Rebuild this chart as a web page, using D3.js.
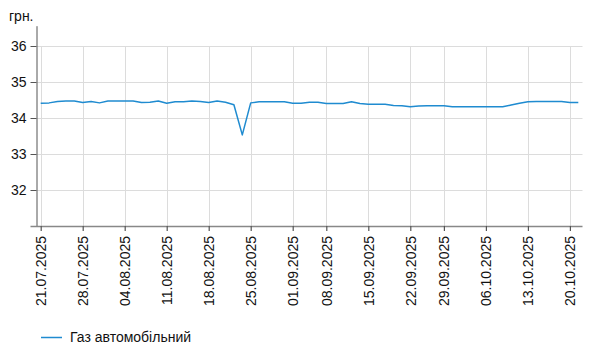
<!DOCTYPE html>
<html><head><meta charset="utf-8">
<script src="https://cdn.jsdelivr.net/npm/d3@7"></script>
<style>
body{margin:0;background:#fff;}
text{font-family:"Liberation Sans",Arial,sans-serif;fill:#111;}
</style></head>
<body><svg id="c" width="591" height="357"></svg>
<script>
const dates = [
"21.07.2025","22.07.2025","23.07.2025","24.07.2025","25.07.2025",
"28.07.2025","29.07.2025","30.07.2025","31.07.2025","01.08.2025",
"04.08.2025","05.08.2025","06.08.2025","07.08.2025","08.08.2025",
"11.08.2025","12.08.2025","13.08.2025","14.08.2025","15.08.2025",
"18.08.2025","19.08.2025","20.08.2025","21.08.2025","22.08.2025",
"25.08.2025","26.08.2025","27.08.2025","28.08.2025","29.08.2025",
"01.09.2025","02.09.2025","03.09.2025","04.09.2025",
"08.09.2025","09.09.2025","10.09.2025","11.09.2025","12.09.2025",
"15.09.2025","16.09.2025","17.09.2025","18.09.2025","19.09.2025",
"22.09.2025","23.09.2025","24.09.2025","25.09.2025",
"29.09.2025","30.09.2025","01.10.2025","02.10.2025","03.10.2025",
"06.10.2025","07.10.2025","08.10.2025","09.10.2025","10.10.2025",
"13.10.2025","14.10.2025","15.10.2025","16.10.2025","17.10.2025",
"20.10.2025","21.10.2025"];
const gasPrices = [
34.41,34.42,34.46,34.47,34.47,
34.43,34.46,34.42,34.47,34.47,
34.47,34.47,34.43,34.44,34.47,
34.41,34.45,34.45,34.47,34.46,
34.43,34.47,34.44,34.37,33.53,
34.42,34.45,34.45,34.45,34.45,
34.41,34.41,34.44,34.44,
34.40,34.40,34.40,34.45,34.40,
34.38,34.38,34.38,34.35,34.34,
34.31,34.33,34.34,34.34,
34.34,34.31,34.31,34.31,34.31,
34.31,34.31,34.31,34.36,34.41,
34.45,34.46,34.46,34.46,34.46,
34.43,34.43];
const xTickLabels = ["21.07.2025","28.07.2025","04.08.2025","11.08.2025","18.08.2025","25.08.2025","01.09.2025","08.09.2025","15.09.2025","22.09.2025","29.09.2025","06.10.2025","13.10.2025","20.10.2025"];
const yTicks = [32,33,34,35,36];
const unitLabel = "грн.";
const seriesName = "Газ автомобільний";

const svg = d3.select("#c");
const L = 36.5, R = 582.5, T = 26.2, B = 226;
const x = d3.scalePoint().domain(dates).range([L, R]).padding(0.5);
const y = d3.scaleLinear().domain([31, 36.55]).range([B, T]);
const color = "#1f8bd0";

// gridlines
const g = svg.append("g");
g.selectAll("line.hg").data(yTicks).join("line")
  .attr("x1", L).attr("x2", R)
  .attr("y1", d => Math.round(y(d)) + 0.5).attr("y2", d => Math.round(y(d)) + 0.5)
  .attr("stroke", "#dcdcdc");
g.selectAll("line.vg").data(xTickLabels).join("line")
  .attr("x1", d => Math.round(x(d)) + 0.5).attr("x2", d => Math.round(x(d)) + 0.5)
  .attr("y1", Math.round(y(36))).attr("y2", B)
  .attr("stroke", "#dcdcdc");

// y axis
const yAxis = svg.append("g").attr("transform", `translate(${L},0)`)
  .call(d3.axisLeft(y).tickValues(yTicks).tickSize(6).tickPadding(4).tickFormat(d3.format("d")));
yAxis.select(".domain").attr("stroke", "#555").attr("d", `M0.5,${T}V${B}`);
yAxis.selectAll(".tick line").attr("stroke", "#555");
yAxis.selectAll("text").style("font-size", "14px").attr("fill", "#111");

// x axis
const xAxis = svg.append("g").attr("transform", `translate(0,${B})`)
  .call(d3.axisBottom(x).tickValues(xTickLabels).tickSize(5).tickPadding(4));
xAxis.select(".domain").attr("stroke", "#888").attr("stroke-width", 1.5).attr("d", `M${L-6},0.5H${R}`);
xAxis.selectAll(".tick line").attr("stroke", "#555").attr("stroke-width", 1.2);
xAxis.selectAll(".tick text")
  .style("font-size", "14px").attr("fill", "#111")
  .attr("text-anchor", "end")
  .attr("transform", "rotate(-90)")
  .attr("x", -10).attr("y", 0).attr("dy", "0.35em");

// unit label
svg.append("text").attr("x", 9).attr("y", 21).style("font-size", "14px").text(unitLabel);

// line
const line = d3.line().x((d, i) => x(dates[i])).y(d => y(d)).curve(d3.curveLinear);
svg.append("path").datum(gasPrices).attr("d", line)
  .attr("fill", "none").attr("stroke", color).attr("stroke-width", 1.5)
  .attr("stroke-linejoin", "round");

// legend
const lg = svg.append("g");
lg.append("line").attr("x1", 41).attr("x2", 62).attr("y1", 337.5).attr("y2", 337.5).attr("stroke", color).attr("stroke-width", 1.5);
lg.append("text").attr("x", 70).attr("y", 337.5).attr("dy", "0.35em").style("font-size", "14px").text(seriesName);
</script></body></html>
